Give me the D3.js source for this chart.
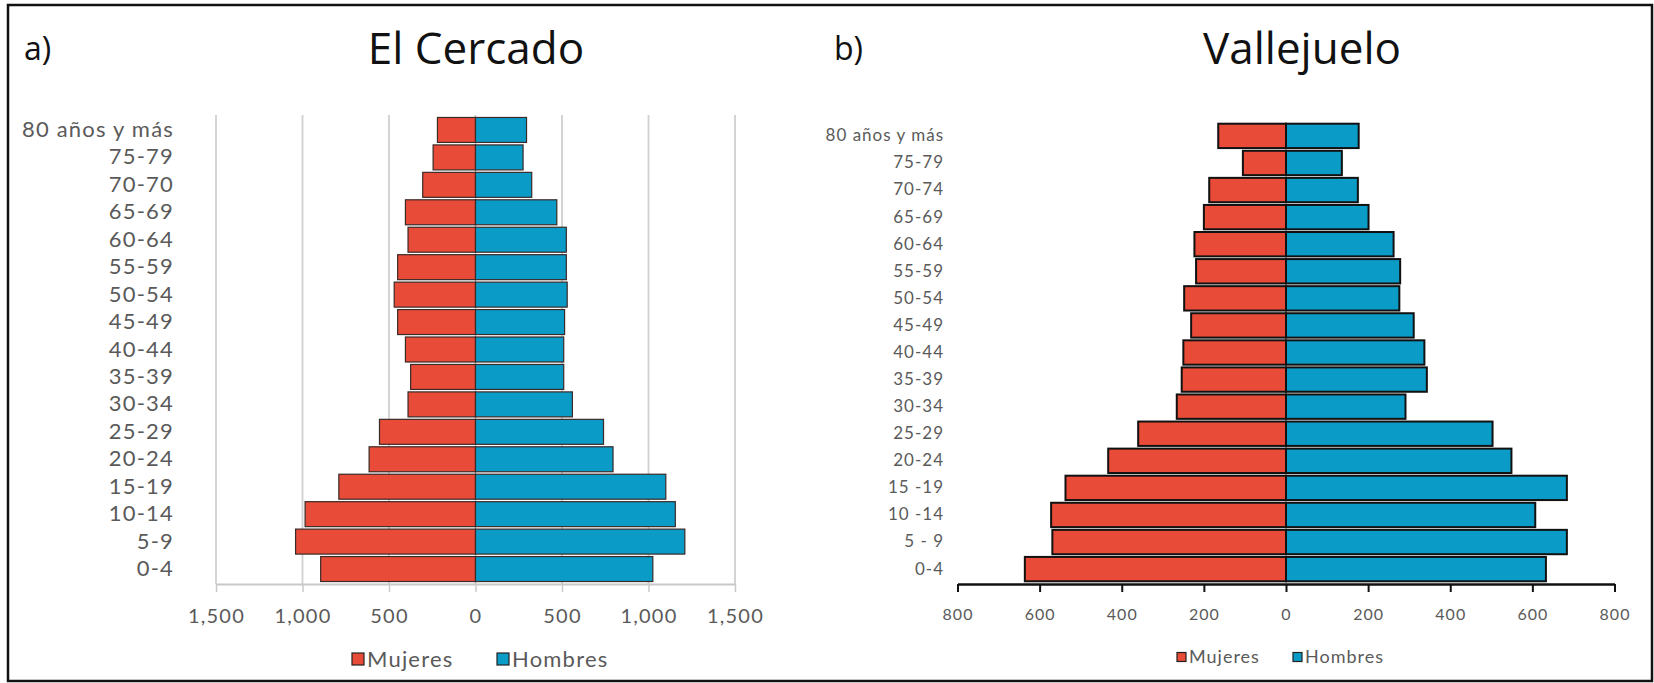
<!DOCTYPE html>
<html>
<head>
<meta charset="utf-8">
<script src="https://cdn.jsdelivr.net/npm/d3@7"></script>
<style>
  body { margin: 0; background: #fff; }
  svg { display: block; }
  .cat text, .ticks text, .legend text { font-family: Lato, "Open Sans", sans-serif; fill: #5a5a5a; }
  .title { font-family: "Open Sans", "Noto Sans", sans-serif; fill: #111; }
</style>
</head>
<body>
<div id="chart"></div>
<script>
// --- data ---
var agesCercado = ["80 años y más","75-79","70-70","65-69","60-64","55-59","50-54","45-49","40-44","35-39","30-34","25-29","20-24","15-19","10-14","5-9","0-4"];
var cercadoMujeres = [220, 245, 305, 405, 390, 450, 470, 450, 405, 375, 390, 555, 615, 790, 985, 1040, 895];
var cercadoHombres = [295, 275, 325, 470, 525, 525, 530, 515, 510, 510, 560, 740, 795, 1100, 1155, 1210, 1025];
var ticksCercado = [-1500, -1000, -500, 0, 500, 1000, 1500];

var agesValle = ["80 años y más","75-79","70-74","65-69","60-64","55-59","50-54","45-49","40-44","35-39","30-34","25-29","20-24","15 -19","10 -14","5 - 9","0-4"];
var valleMujeres = [165, 105, 187, 200, 223, 219, 248, 231, 250, 254, 266, 360, 433, 537, 572, 569, 636];
var valleHombres = [177, 136, 175, 201, 262, 278, 276, 311, 337, 343, 291, 503, 549, 684, 607, 684, 633];
var ticksValle = [-800, -600, -400, -200, 0, 200, 400, 600, 800];

var seriesNames = ["Mujeres", "Hombres"];
var colRed = "#e84b37";
var colBlue = "#0a9bc7";

var W = 1654, H = 683;
var svg = d3.select("#chart").append("svg").attr("width", W).attr("height", H);

// frame
svg.append("rect").attr("x", 8).attr("y", 5).attr("width", 1644).attr("height", 676)
  .attr("fill", "none").attr("stroke", "#111").attr("stroke-width", 2.5);

var fmt = d3.format(",");

function drawPyramid(opt){
  var x = d3.scaleLinear().domain([opt.ticks[0], opt.ticks[opt.ticks.length-1]]).range(opt.xRange);
  var y = d3.scaleBand().domain(opt.ages).range(opt.yRange).padding(opt.pad);
  var g = svg.append("g");

  if(opt.grid){
    g.append("g").selectAll("line").data(opt.ticks).enter().append("line")
      .attr("x1", function(d){ return x(d); }).attr("x2", function(d){ return x(d); })
      .attr("y1", opt.yRange[0]).attr("y2", opt.yRange[1])
      .attr("stroke", "#d0d0d0").attr("stroke-width", 1.8);
  }

  var xAxis = d3.axisBottom(x).tickValues(opt.ticks).tickSize(8).tickSizeOuter(0)
    .tickPadding(opt.tickPad)
    .tickFormat(function(d){ return fmt(Math.abs(d)); });
  var ax = g.append("g").attr("class", "ticks")
    .attr("transform", "translate(0," + opt.yRange[1] + ")")
    .call(xAxis);
  ax.select(".domain").attr("stroke", opt.axisColor).attr("stroke-width", opt.axisWidth);
  ax.selectAll(".tick line").attr("stroke", opt.axisColor).attr("stroke-width", opt.axisWidth * 0.8);
  ax.selectAll("text").style("font-size", opt.tickFont + "px").style("letter-spacing", opt.ls + "px")
    .attr("fill", "#5a5a5a");

  // bars
  var rows = opt.ages.map(function(a, i){ return {age: a, m: opt.mujeres[i], h: opt.hombres[i]}; });
  g.append("g").selectAll("rect").data(rows).enter().append("rect")
    .attr("x", function(d){ return x(-d.m); })
    .attr("y", function(d){ return y(d.age); })
    .attr("width", function(d){ return x(0) - x(-d.m); })
    .attr("height", y.bandwidth())
    .attr("fill", colRed).attr("stroke", opt.barStroke).attr("stroke-width", opt.barStrokeW);
  g.append("g").selectAll("rect").data(rows).enter().append("rect")
    .attr("x", x(0))
    .attr("y", function(d){ return y(d.age); })
    .attr("width", function(d){ return x(d.h) - x(0); })
    .attr("height", y.bandwidth())
    .attr("fill", colBlue).attr("stroke", opt.barStroke).attr("stroke-width", opt.barStrokeW);

  // category labels
  var yAxis = d3.axisLeft(y).tickSize(0).tickPadding(0);
  var cy = g.append("g").attr("class", "cat").attr("transform", "translate(" + opt.labelX + ",0)").call(yAxis);
  cy.select(".domain").remove();
  cy.selectAll("text").style("font-size", opt.catFont + "px").style("letter-spacing", opt.ls + "px")
    .attr("fill", "#5a5a5a");

  // titles
  svg.append("text").attr("class", "title").attr("x", opt.titleX).attr("y", 64)
    .attr("text-anchor", "middle").style("font-size", "44px").text(opt.title);
  svg.append("text").attr("class", "title").attr("x", opt.letterX).attr("y", 60)
    .style("font-size", "32px").text(opt.letter);

  // legend
  var lg = svg.append("g").attr("class", "legend");
  var colors = [colRed, colBlue];
  seriesNames.forEach(function(n, i){
    lg.append("rect").attr("x", opt.legX[i]).attr("y", opt.legY - opt.legBox / 2)
      .attr("width", opt.legBox).attr("height", opt.legBox)
      .attr("fill", colors[i]).attr("stroke", "#222").attr("stroke-width", 1.2);
    lg.append("text").attr("x", opt.legX[i] + opt.legBox + 3).attr("y", opt.legY)
      .attr("dy", "0.35em").style("font-size", opt.legFont + "px").style("letter-spacing", opt.ls + "px")
      .text(n);
  });
}

drawPyramid({
  ages: agesCercado, mujeres: cercadoMujeres, hombres: cercadoHombres, ticks: ticksCercado,
  xRange: [216, 735], yRange: [115, 584], pad: 0.09,
  grid: true, axisColor: "#c8c8c8", axisWidth: 1.8, tickPad: 17, tickFont: 20,
  barStroke: "#3a2a28", barStrokeW: 1.2,
  labelX: 174, catFont: 22, ls: 1.2,
  title: "El Cercado", titleX: 476, letter: "a)", letterX: 24,
  legX: [352, 497], legY: 659, legBox: 12, legFont: 22
});

drawPyramid({
  ages: agesValle, mujeres: valleMujeres, hombres: valleHombres, ticks: ticksValle,
  xRange: [957.5, 1614.5], yRange: [121, 584], pad: 0.1,
  grid: false, axisColor: "#111", axisWidth: 2.5, tickPad: 17, tickFont: 16,
  barStroke: "#111", barStrokeW: 2,
  labelX: 944, catFont: 17, ls: 1,
  title: "Vallejuelo", titleX: 1302, letter: "b)", letterX: 834,
  legX: [1177, 1293], legY: 657, legBox: 9, legFont: 18
});
</script>
</body>
</html>
